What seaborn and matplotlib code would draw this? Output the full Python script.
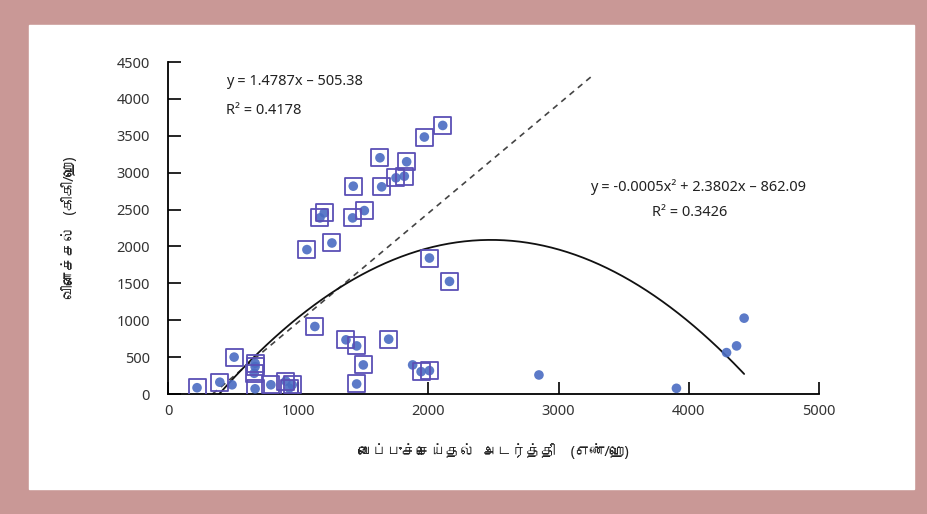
import numpy as np
import pandas as pd
import seaborn as sns
import matplotlib
matplotlib.use("Agg")
import matplotlib.pyplot as plt
from matplotlib import font_manager
from matplotlib.ft2font import FT2Font
from matplotlib.patches import Rectangle

# points drawn with a square frame around them
boxed_x = [2110, 1969, 1628, 1833, 1751, 1815, 1641, 1423, 1508, 1418, 1200, 1167,
           1259, 1067, 2008, 2162, 1128, 1367, 1449, 1695, 1500, 1449, 508, 398,
           669, 662, 669, 223, 790, 905, 954, 931, 1944, 2008, 669]
boxed_y = [3640, 3483, 3202, 3148, 2930, 2952, 2808, 2817, 2486, 2387, 2455, 2387,
           2047, 1957, 1843, 1526, 915, 734, 652, 743, 394, 136, 500, 160,
           417, 281, 70, 85, 125, 175, 125, 80, 303, 317, 371]
# points without a frame
plain_x = [1879, 2849, 3905, 4290, 4367, 4425, 492]
plain_y = [394, 258, 77, 561, 652, 1028, 125]

lin_coef = [1.4787, -505.38]
quad_coef = [-0.00048, 2.3802, -862.09]
lin_range = [342, 3250]
quad_range = [393, 4425]

x_ticks = [0, 1000, 2000, 3000, 4000, 5000]
y_ticks = [0, 500, 1000, 1500, 2000, 2500, 3000, 3500, 4000, 4500]

x_label = "வைப்புச்செய்தல்  அடர்த்தி    (எண்/ஹெ)"
y_label = "விளைச்சல்   (கிகி/ஹெ)"
lin_text = "y = 1.4787x – 505.38"
lin_r2 = "R² = 0.4178"
quad_text = "y = -0.0005x² + 2.3802x – 862.09"
quad_r2 = "R² = 0.3426"


def find_tamil_font():
    for f in font_manager.fontManager.ttflist:
        try:
            if 0x0BB5 in FT2Font(f.fname).get_charmap():
                return f.name
        except Exception:
            pass
    return None


sns.set_style("white")
families = ["Noto Sans"]
tamil = find_tamil_font()
if tamil:
    families.append(tamil)
families.append("DejaVu Sans")
plt.rcParams["font.family"] = families

border = "#c99896"
fig = plt.figure(figsize=(9.28, 5.14), dpi=100, facecolor=border)
fig.patches.append(Rectangle((29 / 928, 1 - 489 / 514), 885 / 928, 464 / 514,
                             transform=fig.transFigure, color="white", zorder=-10))
ax = fig.add_axes([168 / 928, 1 - 394 / 514, 651 / 928, 332 / 514])
ax.set_zorder(1)
ax.set_facecolor("none")

points = pd.DataFrame({"x": boxed_x + plain_x, "y": boxed_y + plain_y})
sns.scatterplot(data=points, x="x", y="y", ax=ax, s=48, color="#4a6cc2",
                edgecolor="none", alpha=0.9, zorder=3)
boxes = pd.DataFrame({"x": boxed_x, "y": boxed_y})
sns.scatterplot(data=boxes, x="x", y="y", ax=ax, marker="s", s=150,
                facecolor="none", edgecolor="#5b4fb5", linewidth=1.3, zorder=4)

lx = np.linspace(lin_range[0], lin_range[1], 50)
sns.lineplot(x=lx, y=np.polyval(lin_coef, lx), ax=ax, color="#444444",
             linewidth=1.2, linestyle=(0, (3.5, 3)), zorder=2)
qx = np.linspace(quad_range[0], quad_range[1], 200)
sns.lineplot(x=qx, y=np.polyval(quad_coef, qx), ax=ax, color="#111111",
             linewidth=1.3, zorder=2)

ax.set_xlim(0, 5000)
ax.set_ylim(0, 4500)
ax.set_xticks(x_ticks)
ax.set_yticks(y_ticks)
for s in ["top", "right"]:
    ax.spines[s].set_visible(False)
for s in ["left", "bottom"]:
    ax.spines[s].set_color("black")
    ax.spines[s].set_linewidth(1.3)
ax.tick_params(axis="both", direction="in", length=9, width=1.2, colors="black",
               labelsize=10.5, labelcolor="#333333", bottom=True, left=True)
ax.tick_params(axis="y", pad=13)
ax.tick_params(axis="x", pad=7)
ax.set_xlabel(x_label, fontsize=10.5, labelpad=18, color="#222222")
ax.set_ylabel(y_label, fontsize=10.5, labelpad=28, color="#222222")

ax.text(970, 4239, lin_text, ha="center", va="center", fontsize=10.5, color="#222222")
ax.text(738, 3845, lin_r2, ha="center", va="center", fontsize=10.5, color="#222222")
ax.text(4070, 2799, quad_text, ha="center", va="center", fontsize=10.5, color="#222222")
ax.text(4008, 2459, quad_r2, ha="center", va="center", fontsize=10.5, color="#222222")

fig.savefig("out.png", dpi=100, facecolor=fig.get_facecolor())
